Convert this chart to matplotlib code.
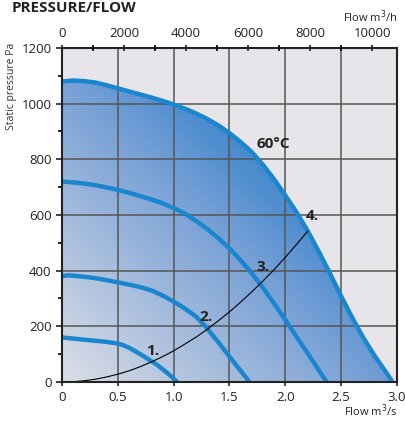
import matplotlib
matplotlib.use('Agg')
import matplotlib.pyplot as plt
import numpy as np
from matplotlib.colors import LinearSegmentedColormap
from matplotlib.patches import Polygon

plt.rcParams['font.family'] = ['Open Sans', 'DejaVu Sans']

# fan curves, flow in m3/s, static pressure in Pa
flow_60c = [0, 0.1, 0.2, 0.3, 0.4, 0.5, 0.6, 0.7, 0.8, 0.9, 1.0, 1.1, 1.2, 1.3, 1.4, 1.5,
            1.6, 1.7, 1.8, 1.9, 2.0, 2.1, 2.2, 2.3, 2.4, 2.5, 2.6, 2.7, 2.8, 2.9, 2.96]
pres_60c = [1080, 1083, 1081, 1076, 1066, 1055, 1044, 1033, 1022, 1010, 997, 982, 965, 945, 922, 894,
            862, 826, 780, 728, 670, 610, 543, 468, 390, 308, 230, 158, 94, 36, 0]

flow_3 = [0, 0.1, 0.2, 0.3, 0.4, 0.5, 0.6, 0.7, 0.8, 0.9, 1.0, 1.1, 1.2, 1.3, 1.4, 1.5,
          1.6, 1.68, 1.7, 1.8, 1.9, 2.0, 2.1, 2.2, 2.3, 2.37]
pres_3 = [720, 717, 713, 707, 699, 690, 680, 668, 656, 642, 625, 605, 579, 550, 517, 480,
          437, 400, 390, 338, 282, 223, 163, 103, 43, 0]

flow_2 = [0, 0.05, 0.1, 0.2, 0.3, 0.4, 0.5, 0.6, 0.7, 0.8, 0.9, 1.0, 1.1, 1.2, 1.28, 1.3, 1.4, 1.5, 1.6, 1.68]
pres_2 = [380, 383, 382, 378, 373, 366, 358, 350, 341, 329, 311, 289, 264, 235, 202, 192, 143, 91, 40, 0]

flow_1 = [0, 0.1, 0.2, 0.3, 0.4, 0.5, 0.55, 0.6, 0.65, 0.7, 0.75, 0.8, 0.85, 0.9, 0.95, 1.0, 1.03]
pres_1 = [160, 156, 152, 148, 144, 138, 132, 123, 112, 100, 88, 75, 62, 46, 30, 12, 0]

# system curve
flow_sys = [0, 0.1, 0.2, 0.3, 0.4, 0.5, 0.6, 0.7, 0.8, 0.9, 1.0, 1.1, 1.2, 1.3, 1.4, 1.5,
            1.6, 1.7, 1.8, 1.9, 2.0, 2.1, 2.2]
pres_sys = [0, 1, 4.5, 10, 18, 28, 40, 55, 72, 91, 112, 136, 161, 189, 220, 252,
            287, 324, 363, 404, 448, 494, 542]

curve_labels = ['1.', '2.', '3.', '4.']
label_pos = [(0.81, 112), (1.29, 235), (1.8, 413), (2.24, 595)]

blue = '#1a86d0'
bg = '#e7e5e9'

fig = plt.figure(figsize=(4.06, 4.24), dpi=100)
ax = fig.add_axes([0.1527, 0.0991, 0.8251, 0.7877])
ax.set_facecolor(bg)
ax.set_xlim(0, 3.0)
ax.set_ylim(0, 1200)

# gradient fill under the 60C curve
cmap = LinearSegmentedColormap.from_list('g', [(0, '#dcdee6'), (0.45, '#7aa2d6'), (0.72, '#2a7ccb'), (1, '#1f74c6')])
gx, gy = np.meshgrid(np.linspace(0, 3, 300), np.linspace(0, 1200, 300))
t = 0.5 * (gx / 3.0 + gy / 1200.0)
img = ax.imshow(t, extent=[0, 3, 0, 1200], origin='lower', aspect='auto', cmap=cmap,
                vmin=0, vmax=1, zorder=1)
poly = Polygon(list(zip(flow_60c, pres_60c)) + [(0, 0)], closed=True, transform=ax.transData)
img.set_clip_path(poly)

ax.grid(True, color='#555555', linewidth=1.1, zorder=2)
ax.set_axisbelow(False)
ax.set_xticks(np.arange(0, 3.01, 0.5))
ax.set_xticklabels(['0', '0.5', '1.0', '1.5', '2.0', '2.5', '3.0'])
ax.set_yticks(np.arange(0, 1201, 200))
ax.set_yticks(np.arange(0, 1201, 100), minor=True)
ax.tick_params(axis='both', which='major', labelsize=9.5, colors='#222222', length=4, width=1.2)
ax.tick_params(axis='y', which='minor', length=3, width=1.2)
ax.tick_params(axis='x', which='major', length=3)
for s in ax.spines.values():
    s.set_linewidth(1.5)
    s.set_color('#222222')
    s.set_zorder(6)

lw = 3.2
for fx, py in [(flow_60c, pres_60c), (flow_3, pres_3), (flow_2, pres_2), (flow_1, pres_1)]:
    ax.plot(fx, py, color=blue, lw=lw, zorder=4, solid_capstyle='butt', solid_joinstyle='round')
ax.plot(flow_sys, pres_sys, color='black', lw=0.8, zorder=5)

for lab, (x, y) in zip(curve_labels, label_pos):
    ax.text(x, y, lab, fontsize=11, fontweight='bold', color='#222222', ha='center', va='center', zorder=7)
ax.text(1.89, 855, '60°C', fontsize=11, fontweight='bold', color='#222222', ha='center', va='center', zorder=7)

# top axis in m3/h
ax2 = ax.twiny()
ax2.set_xlim(0, 3.0 * 3600)
ax2.set_xticks(np.arange(0, 10001, 2000))
ax2.set_xticks(np.arange(0, 10801, 1000), minor=True)
ax2.tick_params(axis='x', which='major', labelsize=9.5, colors='#222222', length=5, width=1.2, direction='inout')
ax2.tick_params(axis='x', which='minor', length=5, width=1.2, direction='inout')
for s in ax2.spines.values():
    s.set_visible(False)

fig.text(397 / 406, 1 - 17 / 424, 'Flow m$^3$/h', fontsize=8, ha='right', va='center', color='#222222')
fig.text(397 / 406, 1 - 411 / 424, 'Flow m$^3$/s', fontsize=8, ha='right', va='center', color='#222222')
fig.text(12 / 406, 1 - 86 / 424, 'Static pressure Pa', fontsize=7.5, rotation=90, ha='center', va='center', color='#333333')
fig.text(12 / 406, 1 - 8 / 424, 'PRESSURE/FLOW', fontsize=11, fontweight='bold', ha='left', va='center', color='#222222')

fig.savefig('out.png', dpi=100)
